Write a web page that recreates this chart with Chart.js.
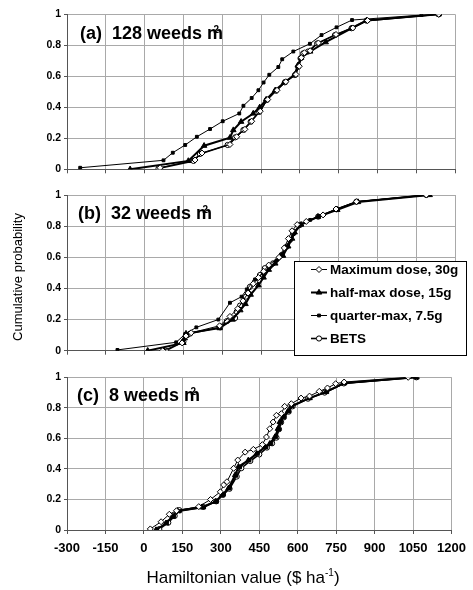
<!DOCTYPE html>
<html>
<head>
<meta charset="utf-8">
<script src="https://cdn.jsdelivr.net/npm/chart.js@4.4.0/dist/chart.umd.min.js"></script>
<style>
body { margin: 0; background: #fff; }
#wrap { position: relative; width: 473px; height: 590px; overflow: hidden; font-family: 'Liberation Sans', Arial, sans-serif; color: #000; }
#wrap canvas { position: absolute; left: 0; }
.ptitle { position: absolute; font-weight: bold; font-size: 18px; line-height: 18px; white-space: pre; }
.ptitle .m { position: relative; }
.ptitle .sup { position: absolute; font-size: 10px; line-height: 10px; left: 3px; top: 2px; }
#ytitle { position: absolute; width: 200px; left: -82px; top: 270px; text-align: center; font-size: 13px; line-height: 14px; transform: rotate(-90deg); white-space: nowrap; }
#xtitle { position: absolute; width: 300px; left: 93px; top: 569px; text-align: center; font-size: 17px; line-height: 18px; white-space: nowrap; }
#xtitle sup { font-size: 10px; vertical-align: 7px; line-height: 0; }
</style>
</head>
<body>
<div id="wrap">
  <canvas id="chartA" width="473" height="180" style="top:0px"></canvas>
  <canvas id="chartB" width="473" height="184" style="top:181px"></canvas>
  <canvas id="chartC" width="473" height="225" style="top:365px"></canvas>
  <div id="ytitle">Cumulative probability</div>
  <div id="xtitle">Hamiltonian value ($ ha<sup>-1</sup>)</div>
</div>
<script>
const seriesNames = ['Maximum dose, 30g', 'half-max dose, 15g', 'quarter-max, 7.5g', 'BETS'];
const xTickValues = [-300, -150, 0, 150, 300, 450, 600, 750, 900, 1050, 1200];
const yTickValues = [0, 0.2, 0.4, 0.6, 0.8, 1];
const panelLetters = ['(a)', '(b)', '(c)'];
const weedDensities = [128, 32, 8];

// (a) 128 weeds m-2
const aMaxX = [60, 195, 222, 330, 356, 388, 414, 447, 476, 512, 546, 585, 598, 606, 618, 640, 672, 740, 805, 862, 1137];
const aMaxY = [0.01, 0.06, 0.105, 0.16, 0.21, 0.258, 0.31, 0.375, 0.45, 0.51, 0.565, 0.612, 0.665, 0.72, 0.752, 0.765, 0.815, 0.87, 0.912, 0.96, 1.0];
const aHalfX = [-56, 169, 230, 330, 343, 373, 420, 445, 470, 505, 540, 580, 592, 605, 640, 700, 800, 858, 1137];
const aHalfY = [0, 0.054, 0.152, 0.204, 0.253, 0.307, 0.36, 0.4, 0.45, 0.51, 0.56, 0.61, 0.67, 0.72, 0.76, 0.82, 0.91, 0.96, 1.0];
const aQuarterX = [-249, 73, 109, 157, 202, 253, 302, 366, 382, 414, 440, 460, 482, 517, 532, 575, 639, 684, 742, 802, 1070, 1137];
const aQuarterY = [0.01, 0.058, 0.107, 0.157, 0.21, 0.26, 0.31, 0.36, 0.41, 0.46, 0.51, 0.56, 0.61, 0.66, 0.71, 0.76, 0.81, 0.866, 0.916, 0.963, 0.995, 1.0];
const aBetsX = [54, 189, 214, 321, 350, 382, 410, 443, 472, 508, 542, 581, 594, 603, 613, 632, 667, 736, 800, 858, 1137];
const aBetsY = [0.006, 0.054, 0.099, 0.157, 0.206, 0.254, 0.307, 0.37, 0.447, 0.507, 0.561, 0.608, 0.662, 0.716, 0.748, 0.76, 0.812, 0.866, 0.91, 0.959, 1.0];

// (b) 32 weeds m-2
const bMaxX = [70, 145, 160, 180, 290, 330, 360, 380, 400, 420, 440, 460, 480, 520, 540, 556, 570, 590, 625, 690, 740, 819, 1089];
const bMaxY = [0, 0.05, 0.095, 0.115, 0.16, 0.22, 0.27, 0.32, 0.37, 0.43, 0.47, 0.51, 0.55, 0.6, 0.66, 0.72, 0.77, 0.81, 0.83, 0.872, 0.91, 0.957, 1.0];
const bHalfX = [12, 150, 155, 160, 290, 340, 370, 390, 410, 440, 460, 480, 505, 535, 555, 570, 580, 605, 670, 745, 825, 1102];
const bHalfY = [0, 0.05, 0.08, 0.11, 0.145, 0.2, 0.26, 0.3, 0.36, 0.42, 0.47, 0.52, 0.56, 0.61, 0.67, 0.72, 0.76, 0.81, 0.86, 0.905, 0.955, 1.0];
const bQuarterX = [-105, 122, 157, 200, 285, 330, 375, 395, 427, 459, 485, 510, 530, 549, 562, 575, 600, 640, 690, 742, 819, 1102];
const bQuarterY = [0.005, 0.054, 0.107, 0.15, 0.2, 0.308, 0.347, 0.394, 0.458, 0.497, 0.54, 0.58, 0.615, 0.668, 0.711, 0.754, 0.807, 0.84, 0.872, 0.908, 0.957, 1.0];
const bBetsX = [82, 150, 165, 176, 292, 318, 350, 356, 369, 392, 407, 427, 446, 465, 497, 530, 549, 562, 575, 600, 671, 742, 819, 1089];
const bBetsY = [0, 0.058, 0.1, 0.11, 0.15, 0.19, 0.21, 0.25, 0.29, 0.347, 0.41, 0.443, 0.486, 0.53, 0.561, 0.615, 0.668, 0.711, 0.754, 0.807, 0.861, 0.908, 0.957, 1.0];

// (c) 8 weeds m-2
const cMaxX = [25, 67, 99, 127, 214, 260, 298, 311, 324, 350, 366, 395, 427, 462, 478, 491, 504, 517, 536, 549, 575, 613, 646, 684, 716, 748, 781, 1031];
const cMaxY = [0.007, 0.054, 0.103, 0.126, 0.153, 0.2, 0.25, 0.295, 0.316, 0.404, 0.458, 0.51, 0.528, 0.559, 0.609, 0.663, 0.707, 0.751, 0.762, 0.81, 0.827, 0.864, 0.877, 0.908, 0.93, 0.958, 0.969, 1.0];
const cHalfX = [47, 86, 111, 131, 227, 279, 305, 330, 356, 369, 407, 440, 472, 491, 511, 523, 530, 543, 562, 575, 646, 710, 781, 1063];
const cHalfY = [0, 0.044, 0.087, 0.126, 0.149, 0.185, 0.229, 0.273, 0.36, 0.415, 0.456, 0.5, 0.543, 0.565, 0.609, 0.663, 0.707, 0.74, 0.777, 0.812, 0.864, 0.904, 0.963, 1.0];
const cQuarterX = [52, 90, 118, 140, 235, 285, 312, 336, 360, 375, 412, 445, 478, 497, 515, 528, 536, 548, 566, 580, 650, 715, 785, 1063];
const cQuarterY = [0.004, 0.05, 0.09, 0.122, 0.147, 0.19, 0.233, 0.28, 0.355, 0.41, 0.46, 0.505, 0.545, 0.57, 0.612, 0.66, 0.71, 0.745, 0.78, 0.815, 0.866, 0.906, 0.96, 1.0];
const cBetsX = [60, 95, 120, 138, 230, 282, 308, 334, 362, 380, 415, 450, 480, 500, 517, 527, 535, 546, 565, 580, 640, 705, 780, 1063];
const cBetsY = [0.006, 0.048, 0.092, 0.13, 0.152, 0.188, 0.23, 0.27, 0.35, 0.405, 0.452, 0.495, 0.54, 0.568, 0.605, 0.66, 0.705, 0.738, 0.775, 0.81, 0.86, 0.9, 0.96, 1.0];

const pointStyles = ['rectRot', 'triangle', 'rect', 'circle'];
const pointRadii = [3, 3.2, 2, 2.6];
const pointFills = ['#fff', '#000', '#000', '#fff'];
const lineWidths = [1, 2, 1, 1.6];

const fontFamily = "'Liberation Sans', Arial, sans-serif";

const panels = [
    { id: 'chartA', padTop: 14.3, xHeight: 10.7, showX: false,
      xs: [aMaxX, aHalfX, aQuarterX, aBetsX], ys: [aMaxY, aHalfY, aQuarterY, aBetsY],
      titleLeft: 80, titleTop: 24 },
    { id: 'chartB', padTop: 14, xHeight: 14.3, showX: false, legend: true,
      xs: [bMaxX, bHalfX, bQuarterX, bBetsX], ys: [bMaxY, bHalfY, bQuarterY, bBetsY],
      titleLeft: 78, titleTop: 204 },
    { id: 'chartC', padTop: 12.3, xHeight: 60, showX: true,
      xs: [cMaxX, cHalfX, cQuarterX, cBetsX], ys: [cMaxY, cHalfY, cQuarterY, cBetsY],
      titleLeft: 77, titleTop: 386 }
];

function markPoint(ctx, style, r, x, y, fill) {
    ctx.save();
    ctx.fillStyle = fill;
    ctx.strokeStyle = '#000';
    ctx.lineWidth = 1;
    ctx.beginPath();
    if (style === 'rectRot') {
        ctx.moveTo(x, y - r); ctx.lineTo(x + r, y); ctx.lineTo(x, y + r); ctx.lineTo(x - r, y); ctx.closePath();
    } else if (style === 'triangle') {
        ctx.moveTo(x, y - r); ctx.lineTo(x + r * 0.87, y + r * 0.5); ctx.lineTo(x - r * 0.87, y + r * 0.5); ctx.closePath();
    } else if (style === 'rect') {
        const s = r * 0.71;
        ctx.rect(x - s, y - s, 2 * s, 2 * s);
    } else {
        ctx.arc(x, y, r, 0, Math.PI * 2);
    }
    ctx.fill();
    ctx.stroke();
    ctx.restore();
}

const boxLegend = {
    id: 'boxLegend',
    afterDraw(chart) {
        if (!chart.options.plugins.boxLegend.show) return;
        const ctx = chart.ctx;
        const left = 294, top = 80, width = 172, height = 94;
        ctx.save();
        ctx.fillStyle = '#fff';
        ctx.fillRect(left, top, width, height);
        ctx.strokeStyle = '#000';
        ctx.lineWidth = 1;
        ctx.strokeRect(left + 0.5, top + 0.5, width, height);
        ctx.font = `bold 13.5px ${fontFamily}`;
        ctx.textBaseline = 'middle';
        seriesNames.forEach((name, i) => {
            const y = top + 8.5 + i * 23;
            ctx.strokeStyle = '#000';
            ctx.lineWidth = lineWidths[i];
            ctx.beginPath();
            ctx.moveTo(311, y);
            ctx.lineTo(327, y);
            ctx.stroke();
            markPoint(ctx, pointStyles[i], pointRadii[i], 319, y, pointFills[i]);
            ctx.fillStyle = '#000';
            ctx.fillText(name, 330, y + 1);
        });
        ctx.restore();
    }
};

function makeDatasets(xs, ys) {
    return seriesNames.map((name, i) => ({
        label: name,
        data: xs[i].map((x, j) => ({ x: x, y: ys[i][j] })),
        showLine: true,
        borderColor: '#000',
        borderWidth: lineWidths[i],
        pointStyle: pointStyles[i],
        pointRadius: pointRadii[i],
        pointBackgroundColor: pointFills[i],
        pointBorderColor: '#000',
        pointBorderWidth: 1,
        tension: 0
    }));
}

panels.forEach((p, k) => {
    const title = document.createElement('div');
    title.className = 'ptitle';
    title.style.left = p.titleLeft + 'px';
    title.style.top = p.titleTop + 'px';
    title.innerHTML = `${panelLetters[k]}  ${weedDensities[k]} weeds <span class="m">m<span class="sup">-2</span></span>`;
    document.getElementById('wrap').appendChild(title);

    new Chart(document.getElementById(p.id), {
        type: 'scatter',
        data: { datasets: makeDatasets(p.xs, p.ys) },
        options: {
            responsive: false,
            animation: false,
            devicePixelRatio: 1,
            layout: { padding: { top: p.padTop, right: 18, left: 0, bottom: 0 } },
            plugins: {
                legend: { display: false },
                tooltip: { enabled: false },
                boxLegend: { show: !!p.legend }
            },
            scales: {
                x: {
                    type: 'linear',
                    min: -300,
                    max: 1200,
                    afterBuildTicks: s => { s.ticks = xTickValues.map(v => ({ value: v })); },
                    afterFit: s => { s.height = p.xHeight; },
                    grid: { color: '#a9a9a9', lineWidth: 1, tickLength: 4, tickColor: '#555' },
                    border: { color: '#555', width: 1 },
                    ticks: {
                        display: p.showX,
                        color: '#000',
                        padding: 7,
                        maxRotation: 0,
                        autoSkip: false,
                        callback: v => String(v),
                        font: { family: fontFamily, size: 13, weight: 'bold' }
                    }
                },
                y: {
                    min: 0,
                    max: 1,
                    afterBuildTicks: s => { s.ticks = yTickValues.map(v => ({ value: v })); },
                    afterFit: s => { s.width = 67; },
                    grid: { color: '#a9a9a9', lineWidth: 1, tickLength: 3, tickColor: '#555' },
                    border: { color: '#555', width: 1 },
                    ticks: {
                        color: '#000',
                        padding: 3,
                        callback: v => String(v),
                        font: { family: fontFamily, size: 10.5, weight: 'bold' }
                    }
                }
            }
        },
        plugins: [boxLegend]
    });
});
</script>
</body>
</html>
